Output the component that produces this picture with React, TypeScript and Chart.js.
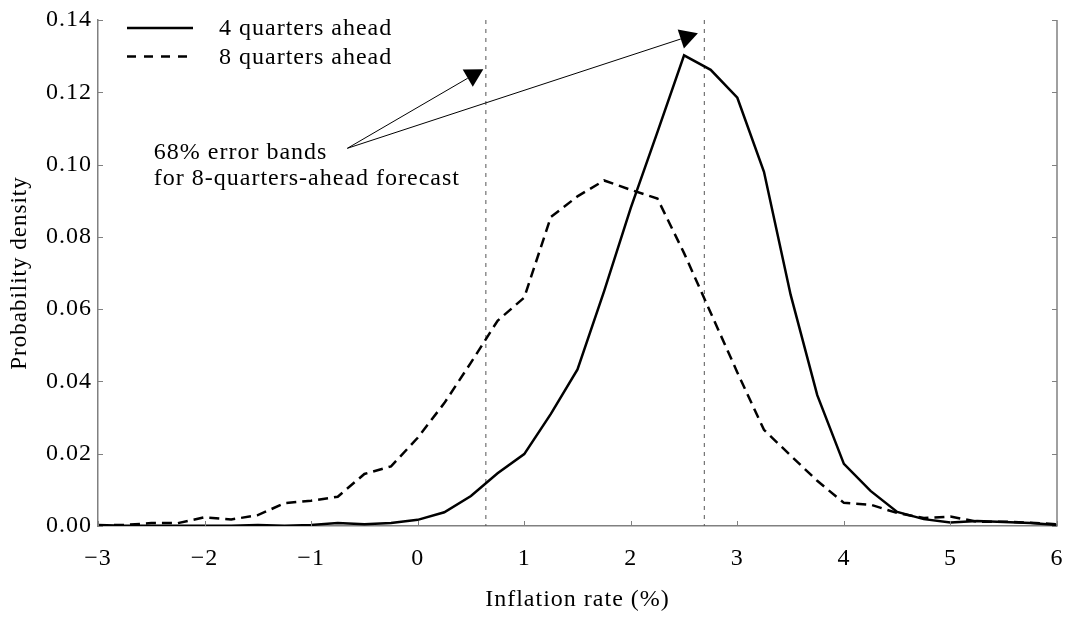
import React, { useEffect, useRef } from 'react';
import { Chart, registerables } from 'chart.js';

Chart.register(...registerables);

// ---------- data ----------
const inflationRates = [
  -3, -2.75, -2.5, -2.25, -2, -1.75, -1.5, -1.25, -1, -0.75, -0.5, -0.25,
  0, 0.25, 0.5, 0.75, 1, 1.25, 1.5, 1.75, 2, 2.25, 2.5, 2.75, 3, 3.25, 3.5, 3.75,
  4, 4.25, 4.5, 4.75, 5, 5.25, 5.5, 5.75, 6,
];

const fourQuartersAhead = [
  0.0003, 0.0001, 0.0001, 0.0001, 0.0001, 0.0001, 0.0003, 0.0001, 0.0003, 0.0008, 0.0005, 0.0008,
  0.0017, 0.0038, 0.0083, 0.0146, 0.0199, 0.031, 0.0433, 0.065, 0.088, 0.109, 0.1302, 0.1262,
  0.1185, 0.098, 0.064, 0.0362, 0.0172, 0.0097, 0.0039, 0.0019, 0.001, 0.0014, 0.0011, 0.0008, 0.0003,
];

const eightQuartersAhead = [
  0.0002, 0.0003, 0.0008, 0.0008, 0.0024, 0.0018, 0.003, 0.0063, 0.007, 0.0081, 0.0144, 0.0165,
  0.0244, 0.034, 0.0452, 0.0568, 0.0632, 0.0855, 0.0912, 0.0956, 0.093, 0.0906, 0.0755, 0.059,
  0.0425, 0.0266, 0.0195, 0.0125, 0.0064, 0.0059, 0.0036, 0.0022, 0.0026, 0.0012, 0.0012, 0.0009, 0.0005,
];

const seriesLabels = ['4 quarters ahead', '8 quarters ahead'];

// 68% error band bounds for the 8-quarters-ahead forecast
const errorBandBounds = [0.64, 2.69];

const xRange = [-3, 6];
const yRange = [0, 0.14];
const xStep = 1;
const yStep = 0.02;

const xTitle = 'Inflation rate (%)';
const yTitle = 'Probability density';

const annotationLines = ['68% error bands', 'for 8-quarters-ahead forecast'];
const annotationAnchor = { x: -2.476, y: 0.1015 };
const arrowFrom = { x: -0.66, y: 0.1045 };
const arrowTips = [
  { x: 0.616, y: 0.1264 },
  { x: 2.63, y: 0.1363 },
];

// ---------- styles ----------
const FONT = "'Liberation Serif', 'Times New Roman', Times, serif";
const AXIS_GRAY = '#808080';
const CURVE_DASH = [10, 6];

const spacingPlugin = {
  id: 'letterSpacing',
  beforeDraw(chart: any) {
    try {
      chart.ctx.letterSpacing = '1px';
    } catch (e) {
      /* ignore */
    }
  },
};

const innerTicksPlugin = {
  id: 'innerTicks',
  afterDatasetsDraw(chart: any) {
    const { ctx, chartArea, scales } = chart;
    const { left, right, top, bottom } = chartArea;
    const x = scales.x;
    const y = scales.y;
    ctx.save();
    ctx.strokeStyle = AXIS_GRAY;
    ctx.lineWidth = 1;
    ctx.beginPath();
    y.ticks.forEach((t: any) => {
      const py = Math.round(y.getPixelForValue(t.value)) + 0.5;
      ctx.moveTo(left, py);
      ctx.lineTo(left + 5, py);
      ctx.moveTo(right, py);
      ctx.lineTo(right - 5, py);
    });
    x.ticks.forEach((t: any) => {
      const px = Math.round(x.getPixelForValue(t.value)) + 0.5;
      ctx.moveTo(px, bottom);
      ctx.lineTo(px, bottom - 5);
    });
    ctx.stroke();
    ctx.lineWidth = 1.5;
    ctx.beginPath();
    ctx.moveTo(right, top);
    ctx.lineTo(right, bottom);
    ctx.stroke();
    ctx.restore();
  },
};

const annotationPlugin = {
  id: 'arrowAnnotation',
  afterDatasetsDraw(chart: any) {
    const { ctx, scales } = chart;
    const x = scales.x;
    const y = scales.y;
    const fx = x.getPixelForValue(arrowFrom.x);
    const fy = y.getPixelForValue(arrowFrom.y);
    ctx.save();
    ctx.strokeStyle = '#000';
    ctx.fillStyle = '#000';
    ctx.lineWidth = 1;
    arrowTips.forEach((tip) => {
      const tx = x.getPixelForValue(tip.x);
      const ty = y.getPixelForValue(tip.y);
      const dx = tx - fx;
      const dy = ty - fy;
      const len = Math.hypot(dx, dy);
      const ux = dx / len;
      const uy = dy / len;
      const headLen = 18;
      const halfW = 10;
      const bx = tx - ux * headLen;
      const by = ty - uy * headLen;
      ctx.beginPath();
      ctx.moveTo(fx, fy);
      ctx.lineTo(bx, by);
      ctx.stroke();
      ctx.beginPath();
      ctx.moveTo(tx, ty);
      ctx.lineTo(bx - uy * halfW, by + ux * halfW);
      ctx.lineTo(bx + uy * halfW, by - ux * halfW);
      ctx.closePath();
      ctx.fill();
    });
    const ax = x.getPixelForValue(annotationAnchor.x);
    const ay = y.getPixelForValue(annotationAnchor.y);
    ctx.font = `24px ${FONT}`;
    ctx.textAlign = 'left';
    ctx.textBaseline = 'alphabetic';
    annotationLines.forEach((line, i) => {
      ctx.fillText(line, ax, ay + i * 26);
    });
    ctx.restore();
  },
};

const legendPlugin = {
  id: 'innerLegend',
  afterDatasetsDraw(chart: any) {
    const { ctx, chartArea } = chart;
    const sx0 = chartArea.left + 29;
    const sx1 = chartArea.left + 95;
    const textX = chartArea.left + 121;
    const y0 = chartArea.top + 8;
    const rowH = 28.5;
    ctx.save();
    ctx.font = `24px ${FONT}`;
    ctx.textAlign = 'left';
    ctx.textBaseline = 'middle';
    chart.data.datasets.slice(0, 2).forEach((ds: any, i: number) => {
      const yy = y0 + i * rowH;
      ctx.strokeStyle = ds.borderColor;
      ctx.lineWidth = ds.borderWidth;
      ctx.setLineDash(ds.borderDash ? [9, 8] : []);
      ctx.beginPath();
      ctx.moveTo(sx0, yy);
      ctx.lineTo(sx1, yy);
      ctx.stroke();
      ctx.setLineDash([]);
      ctx.fillStyle = '#000';
      ctx.fillText(ds.label, textX, yy + 1);
    });
    ctx.restore();
  },
};

export default function App() {
  const canvasRef = useRef<HTMLCanvasElement | null>(null);

  useEffect(() => {
    if (!canvasRef.current) return;
    const toPoints = (vals: number[]) => inflationRates.map((r, i) => ({ x: r, y: vals[i] }));
    const bandLine = (b: number) => [
      { x: b, y: yRange[1] },
      { x: b, y: yRange[0] },
    ];
    const chart = new Chart(canvasRef.current, {
      type: 'line',
      data: {
        datasets: [
          {
            label: seriesLabels[0],
            data: toPoints(fourQuartersAhead),
            borderColor: '#000',
            borderWidth: 2.5,
            pointRadius: 0,
            tension: 0,
          },
          {
            label: seriesLabels[1],
            data: toPoints(eightQuartersAhead),
            borderColor: '#000',
            borderWidth: 2.5,
            borderDash: CURVE_DASH,
            pointRadius: 0,
            tension: 0,
          },
          ...errorBandBounds.map((b) => ({
            label: 'band',
            data: bandLine(b),
            borderColor: '#555',
            borderWidth: 1,
            borderDash: [4, 5],
            pointRadius: 0,
          })),
        ],
      },
      options: {
        responsive: false,
        animation: false,
        layout: { padding: { top: 20, right: 12, left: 0, bottom: 0 } },
        plugins: {
          legend: { display: false },
          tooltip: { enabled: false },
        },
        scales: {
          x: {
            type: 'linear',
            min: xRange[0],
            max: xRange[1],
            grid: { display: false, drawTicks: false },
            border: { display: true, color: AXIS_GRAY, width: 1.5 },
            ticks: {
              stepSize: xStep,
              color: '#000',
              padding: 18,
              maxRotation: 0,
              font: { family: FONT, size: 24 },
              callback: (v: any) => (v < 0 ? '\u2212' + Math.abs(v) : String(v)),
            },
            title: {
              display: true,
              text: xTitle,
              color: '#000',
              font: { family: FONT, size: 24 },
              padding: { top: 0, bottom: 3 },
            },
            afterFit: (axis: any) => {
              axis.height = 91;
              axis.paddingLeft = 0;
              axis.paddingRight = 0;
            },
          },
          y: {
            type: 'linear',
            min: yRange[0],
            max: yRange[1],
            grid: { display: false, drawTicks: false },
            border: { display: true, color: AXIS_GRAY, width: 1.5 },
            ticks: {
              stepSize: yStep,
              color: '#000',
              padding: 6,
              font: { family: FONT, size: 24 },
              callback: (v: any) => Number(v).toFixed(2),
            },
            title: {
              display: true,
              text: yTitle,
              color: '#000',
              font: { family: FONT, size: 23 },
              padding: { top: 6, bottom: 0 },
            },
            afterFit: (axis: any) => {
              axis.width = 98;
              axis.paddingTop = 0;
              axis.paddingBottom = 0;
            },
          },
        },
      },
      plugins: [spacingPlugin, innerTicksPlugin, annotationPlugin, legendPlugin],
    } as any);
    return () => chart.destroy();
  }, []);

  return (
    <div style={{ position: 'absolute', left: 0, top: 0, width: 1069, height: 617, background: '#fff' }}>
      <canvas ref={canvasRef} width={1069} height={617} style={{ display: 'block' }} />
    </div>
  );
}
